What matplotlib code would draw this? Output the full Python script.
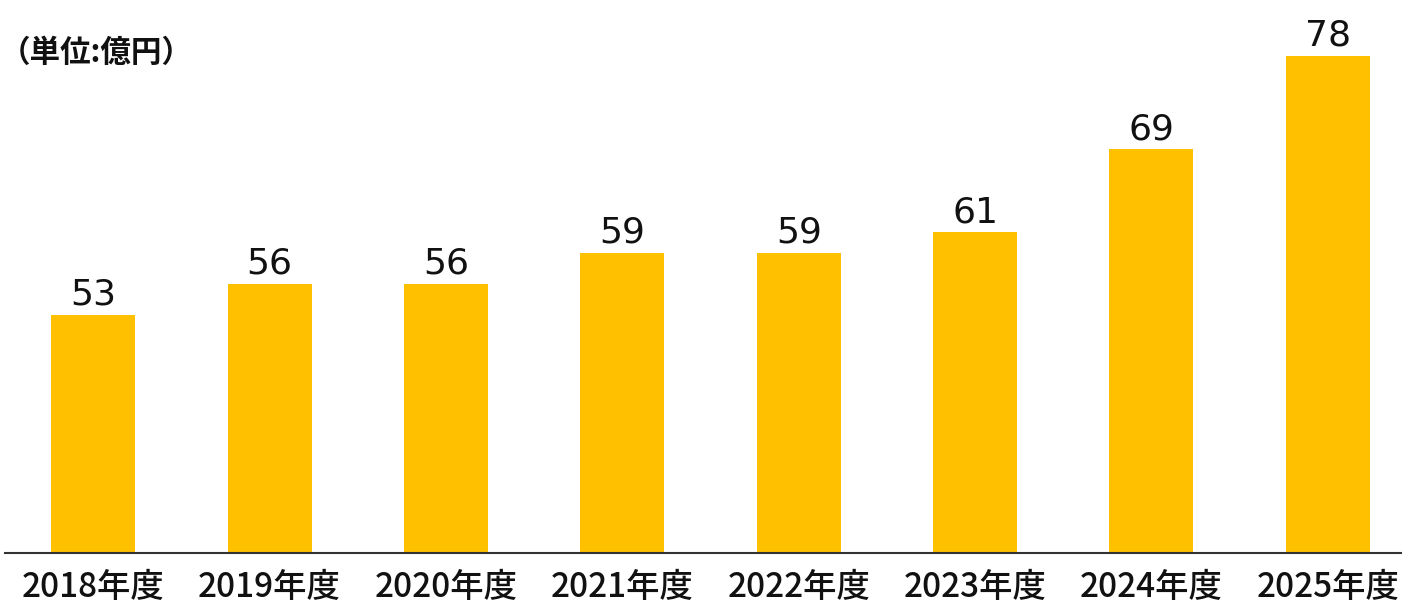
import matplotlib
matplotlib.use("Agg")
import matplotlib.pyplot as plt

plt.rcParams['font.family'] = ['Noto Sans CJK JP', 'DejaVu Sans']

categories = ["2018年度", "2019年度", "2020年度", "2021年度", "2022年度", "2023年度", "2024年度", "2025年度"]
values = [53, 56, 56, 59, 59, 61, 69, 78]
unit_label = "（単位:億円）"

W, H = 1402, 605
fig = plt.figure(figsize=(W / 100, H / 100), dpi=100)
left_px, right_px = 5, 1416
bottom_px, top_px = 553, 0
ax = fig.add_axes([left_px / W, (H - bottom_px) / H, (right_px - left_px) / W, (bottom_px - top_px) / H])

x = list(range(len(categories)))
bars = ax.bar(x, values, width=0.476, color="#FFC000", zorder=2)
ax.set_xlim(-0.5, len(categories) - 0.5)
ax.set_ylim(30, 30 + 553 / 10.36)

for xi, v in zip(x, values):
    ax.annotate(str(v), (xi, v), xytext=(0, 2), textcoords="offset points",
                ha="center", va="bottom", fontsize=26, family=["DejaVu Sans"], color="#111111")

for s in ["top", "right", "left"]:
    ax.spines[s].set_visible(False)
ax.spines["bottom"].set_color("#333333")
ax.spines["bottom"].set_linewidth(1.5)
ax.set_yticks([])
ax.set_xticks(x)
ax.set_xticklabels(categories, fontsize=24, fontweight="medium", color="#111111")
ax.tick_params(axis="x", length=0, pad=12.5)

fig.text(0 / W, 1 - 53 / H, unit_label, ha="left", va="center", fontsize=22, fontweight="bold", color="#111111")

fig.savefig("out.png", dpi=100)
